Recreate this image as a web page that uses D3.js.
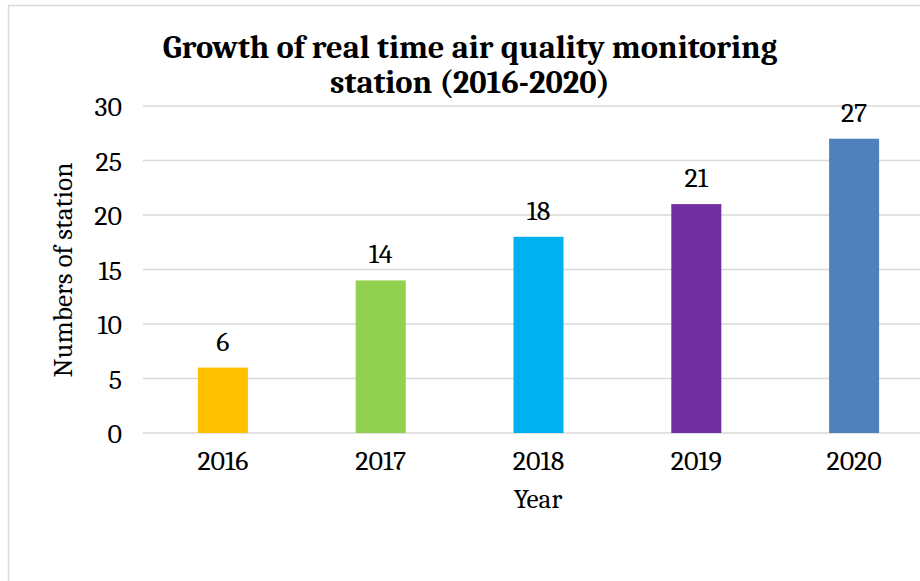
<!DOCTYPE html>
<html><head><meta charset="utf-8">
<script src="https://cdn.jsdelivr.net/npm/d3@7"></script>
<style>body{margin:0;background:#fff}svg{display:block}</style>
</head><body>
<script>
const years = ["2016","2017","2018","2019","2020"];
const stations = [6,14,18,21,27];
const colors = ["#FFC000","#92D050","#00B0F0","#7030A0","#4F81BD"];
const yTicks = [0,5,10,15,20,25,30];
const titleLines = ["Growth of real time air quality monitoring","station (2016-2020)"];
const yLabel = "Numbers of station";
const xLabel = "Year";

const W=920,H=581;
const font = "Cambria, 'DejaVu Serif', 'Liberation Serif', serif";
const svg = d3.select("body").append("svg").attr("width",W).attr("height",H);
svg.append("rect").attr("x",8.5).attr("y",5.5).attr("width",W+20).attr("height",H+20)
  .attr("fill","#fff").attr("stroke","#d9d9d9").attr("stroke-width",1.5);

// helper: font size that makes text of given string reach target width
function fitSize(str, target, weight){
  const t = svg.append("text").style("font-family",font).style("font-size","20px")
    .style("font-weight",weight||"normal").text(str);
  const w = t.node().getComputedTextLength(); t.remove();
  return 20*target/w;
}
const tickSize = fitSize("2016",51);
const labelSize = fitSize(yLabel,215);

const x = d3.scaleBand().domain(years).range([144,933]).paddingInner(0.683).paddingOuter(0.3415);
const y = d3.scaleLinear().domain([0,30]).range([433,106]);

// gridlines
svg.append("g").selectAll("line").data(yTicks).join("line")
  .attr("x1",143).attr("x2",W).attr("y1",d=>y(d)).attr("y2",d=>y(d))
  .attr("stroke","#d9d9d9").attr("stroke-width",1.3);

// y axis labels
const yAxis = svg.append("g").attr("transform","translate(122,0)")
  .call(d3.axisLeft(y).tickValues(yTicks).tickSize(0).tickPadding(0));
yAxis.select(".domain").remove();
yAxis.selectAll("text").style("font-family",font).style("font-size",tickSize+"px").attr("fill","#000").attr("dy","0.35em");

// bars
svg.append("g").selectAll("rect").data(years).join("rect")
  .attr("x",d=>x(d)).attr("width",x.bandwidth())
  .attr("y",(d,i)=>y(stations[i])).attr("height",(d,i)=>y(0)-y(stations[i]))
  .attr("fill",(d,i)=>colors[i]);

// value labels
svg.append("g").selectAll("text").data(years).join("text")
  .attr("x",d=>x(d)+x.bandwidth()/2).attr("y",(d,i)=>y(stations[i])-17)
  .attr("text-anchor","middle").style("font-family",font).style("font-size",tickSize+"px").attr("fill","#000")
  .text((d,i)=>stations[i]);

// x axis
const xAxis = svg.append("g").attr("transform","translate(0,433)")
  .call(d3.axisBottom(x).tickSize(0).tickPadding(0));
xAxis.select(".domain").remove();
xAxis.selectAll("text").style("font-family",font).style("font-size",tickSize+"px").attr("fill","#000")
  .attr("dy",null).attr("y",37);

// axis titles
svg.append("text").attr("x",538).attr("y",508).attr("text-anchor","middle")
  .style("font-family",font).style("font-size",labelSize+"px").text(xLabel);
svg.append("text").attr("transform","translate(72,270) rotate(-90)").attr("text-anchor","middle")
  .style("font-family",font).style("font-size",labelSize+"px").text(yLabel);

// title
const ts = fitSize(titleLines[0],615,"bold");
const t = svg.append("text").attr("text-anchor","middle").style("font-family",font)
  .style("font-weight","bold").style("font-size",ts+"px");
titleLines.forEach((s,i)=>t.append("tspan").attr("x",470).attr("y",58+i*35).text(s));
</script>
</body></html>
